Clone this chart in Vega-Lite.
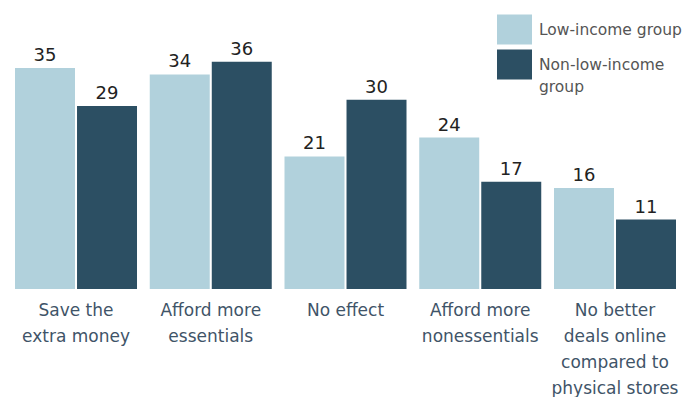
{
  "$schema": "https://vega.github.io/schema/vega-lite/v6.json",
  "width": 686,
  "height": 284,
  "autosize": {"type": "none"},
  "padding": {"left": 0, "top": 5, "right": 0, "bottom": 108},
  "config": {
    "view": {"stroke": null},
    "font": "DejaVu Sans"
  },
  "data": {
    "values": [
      {"category": "Save the extra money", "group": "Low-income group", "value": 35},
      {"category": "Save the extra money", "group": "Non-low-income group", "value": 29},
      {"category": "Afford more essentials", "group": "Low-income group", "value": 34},
      {"category": "Afford more essentials", "group": "Non-low-income group", "value": 36},
      {"category": "No effect", "group": "Low-income group", "value": 21},
      {"category": "No effect", "group": "Non-low-income group", "value": 30},
      {"category": "Afford more nonessentials", "group": "Low-income group", "value": 24},
      {"category": "Afford more nonessentials", "group": "Non-low-income group", "value": 17},
      {"category": "No better deals online compared to physical stores", "group": "Low-income group", "value": 16},
      {"category": "No better deals online compared to physical stores", "group": "Non-low-income group", "value": 11}
    ]
  },
  "encoding": {
    "x": {
      "field": "category",
      "type": "nominal",
      "sort": null,
      "scale": {"paddingInner": 0.0946, "paddingOuter": 0.0928, "align": 0.6},
      "axis": {
        "title": null,
        "orient": "bottom",
        "domain": false,
        "ticks": false,
        "labelAngle": 0,
        "labelPadding": 13,
        "labelFontSize": 17,
        "labelColor": "#3f5468",
        "labelLineHeight": 26,
        "labelBaseline": "top",
        "labelLimit": 200,
        "labelExpr": "datum.label == 'Save the extra money' ? ['Save the', 'extra money'] : datum.label == 'Afford more essentials' ? ['Afford more', 'essentials'] : datum.label == 'Afford more nonessentials' ? ['Afford more', 'nonessentials'] : datum.label == 'No effect' ? 'No effect' : ['No better', 'deals online', 'compared to', 'physical stores']"
      }
    },
    "xOffset": {
      "field": "group",
      "type": "nominal",
      "scale": {"paddingInner": 0.0328, "paddingOuter": 0}
    },
    "y": {
      "field": "value",
      "type": "quantitative",
      "scale": {"domain": [0, 45], "nice": false},
      "axis": null
    }
  },
  "layer": [
    {
      "mark": {"type": "bar"},
      "encoding": {
        "color": {
          "field": "group",
          "type": "nominal",
          "scale": {"domain": ["Low-income group", "Non-low-income group"], "range": ["#b1d1dc", "#2c4f63"]},
          "legend": {
            "title": null,
            "orient": "none",
            "legendX": 497,
            "legendY": 7,
            "padding": 0,
            "symbolType": "M-1,-0.857L1,-0.857L1,0.857L-1,0.857Z",
            "symbolSize": 1225,
            "symbolStrokeWidth": 0,
            "symbolOpacity": 1,
            "labelFontSize": 15.5,
            "labelColor": "#555555",
            "labelOffset": 7,
            "labelLimit": 200,
            "rowPadding": 2,
            "labelExpr": "datum.label == 'Non-low-income group' ? ['Non-low-income', 'group'] : datum.label",
            "encode": {
              "labels": {"update": {"lineHeight": {"value": 22}}}
            }
          }
        }
      }
    },
    {
      "mark": {"type": "text", "baseline": "bottom", "dy": -3, "fontSize": 18, "color": "#222222"},
      "encoding": {
        "text": {"field": "value", "type": "quantitative"}
      }
    }
  ]
}
